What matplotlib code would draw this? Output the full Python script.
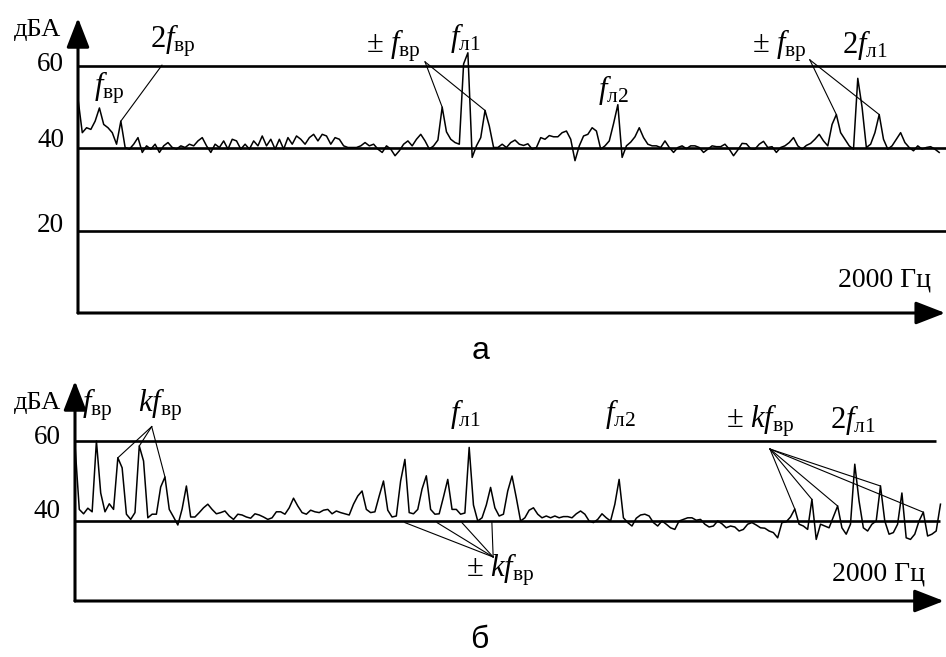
import matplotlib
matplotlib.use('Agg')
import matplotlib.pyplot as plt
import numpy as np
from matplotlib.transforms import ScaledTranslation, blended_transform_factory

plt.rcParams['font.family'] = ['Liberation Serif', 'DejaVu Serif']
plt.rcParams['mathtext.fontset'] = 'custom'
plt.rcParams['mathtext.rm'] = 'Liberation Serif'
plt.rcParams['mathtext.it'] = 'Liberation Serif:italic'
plt.rcParams['mathtext.bf'] = 'Liberation Serif:bold'

# ---------------- data ----------------
freq_a = np.arange(0, 2020, 10)          # Hz, panel "а"
level_a = [
    52, 43.8, 45, 44.6, 46.6, 49.8, 45.8, 45, 43.8, 41,
    46.6, 40.2, 39.8, 41, 42.6, 39, 40.6, 39.8, 41, 39,
    40.6, 41.4, 40.2, 39.8, 40.6, 40.2, 41, 40.6, 41.8, 42.6,
    40.6, 39, 41, 40.2, 41.8, 39.8, 42.2, 41.8, 39.8, 41,
    39.8, 41.8, 40.6, 43, 40.6, 42.2, 39.8, 42.2, 39.8, 42.6,
    41, 43, 42.2, 41, 42.6, 43.4, 41.8, 43.4, 43, 41,
    42.6, 42.2, 40.6, 40.2, 40.2, 40.2, 40.6, 41.4, 40.6, 41,
    39.8, 39, 40.6, 39.8, 38.2, 39.4, 41, 41.8, 40.6, 42.2,
    43.4, 41.8, 39.8, 40.6, 42, 50, 44, 42.2, 41.4, 41,
    60.5, 63.2, 37.8, 40.6, 42.6, 49.2, 45.4, 40.2, 40.2, 41,
    40.2, 41.4, 42, 41, 40.7, 41.1, 39.8, 40.2, 42.6, 42.2,
    43.1, 42.8, 42.8, 43.8, 44.2, 42.2, 37, 40.6, 43, 43.4,
    45, 44.2, 39.8, 40.6, 41.8, 46, 50.6, 37.8, 40.6, 41.5,
    42.8, 45, 42.6, 41, 40.6, 40.6, 40.2, 41.8, 40.2, 39,
    40.2, 40.6, 39.9, 40.6, 40.6, 40.2, 39, 39.8, 40.6, 40.4,
    40.4, 41, 39.8, 38.2, 39.6, 41.2, 41.1, 39.9, 39.8, 41,
    41.7, 40.2, 40.4, 39, 40.2, 40.6, 41.4, 42.6, 40.6, 39.8,
    40.7, 41.2, 42.2, 43.4, 41.8, 40.6, 45.8, 48.2, 43.8, 42.2,
    40.6, 39.8, 57, 50, 40.2, 41, 43.8, 48.2, 42.2, 39.8,
    40.6, 42.2, 43.8, 41.4, 40.2, 39.4, 40.6, 39.8, 40.2, 40.4,
    39.8, 39,
]

freq_b = np.arange(0, 2030, 10)          # Hz, panel "б"
level_b = [
    59, 42.9, 41.8, 43.2, 42.3, 60, 47, 42.3, 44.3, 42.9,
    55.8, 53.3, 41.7, 40.4, 42.1, 58.75, 55, 40.8, 41.7, 41.7,
    48.5, 51, 42.9, 41, 39, 43, 48.75, 41, 41, 42.1,
    43.3, 44.2, 42.9, 41.8, 42.1, 42.5, 41.25, 40.4, 41.7, 41.5,
    41, 40.7, 41.8, 41.5, 41, 40.4, 40.8, 42.3, 42.3, 41.7,
    43.3, 45.7, 43.75, 42.1, 41.7, 42.7, 42.3, 42.1, 42.7, 42.9,
    41.8, 42.5, 42.1, 41.8, 41.5, 44.2, 46.25, 47.5, 42.9, 42.1,
    42.3, 46.25, 50, 42.7, 41, 41.25, 50, 55.4, 42.1, 41.8,
    42.9, 48, 51.3, 42.9, 41.7, 41.8, 46, 50.4, 42.9, 42.9,
    41.7, 42, 58.4, 44, 40, 40.8, 44, 48.4, 43.3, 41.25,
    41.7, 47.5, 51.25, 45.8, 40, 40.8, 42.7, 43.3, 41.7, 40.8,
    41.25, 40.8, 41.25, 40.8, 41.1, 41.1, 40.8, 41.8, 42.5, 41.7,
    40, 39.6, 40.4, 41.8, 40.8, 40, 44.2, 50.4, 40.8, 39.6,
    38.75, 40.7, 41.5, 41.7, 41.25, 39.6, 38.75, 40, 39.2, 38.3,
    37.9, 40, 40.4, 40.8, 40.8, 40.2, 40.4, 39.2, 38.5, 38.75,
    40, 39.3, 38.3, 38.75, 38.5, 37.5, 37.9, 39.2, 39.6, 39,
    38.3, 38.2, 37.5, 37.1, 35.8, 39.6, 39.8, 41, 43, 39.2,
    38.75, 37.9, 45.4, 35.4, 39.2, 38.75, 38.3, 41, 43.75, 38.3,
    36.7, 39.2, 54.2, 45, 38.3, 37.5, 39.2, 40, 48.75, 40,
    36.7, 37.1, 39.2, 47, 35.8, 35.4, 36.7, 40, 42.2, 36.25,
    36.7, 37.5, 44.2,
]

ticks_a = [60, 40, 20]
ticks_b = [60, 40]

# leader lines: apex (Hz, dB) -> indices of marked peaks
lead_a = [((196, 60.2), [10]), ((810, 61.0), [85, 95]), ((1708, 61.5), [177, 187])]
lead_b = [((179, 63.6), [10, 15, 21]), ((1622, 58.0), [168, 172, 178, 188, 198])]
lead_b_low_apex = (976, 31.0)
lead_b_low_ends = [770, 845, 903, 973]
lead_b_low_level = 39.6

# ---------------- figure ----------------
W, H = 946, 657
fig = plt.figure(figsize=(W / 100, H / 100), dpi=100)

HZPX = 2.334
ax1 = fig.add_axes([78 / W, (H - 313) / H, 868 / W, 295 / H])
ax1.set_xlim(0, 868 * HZPX)
ax1.set_ylim(0, 295 / 4.117)
ax2 = fig.add_axes([75 / W, (H - 601) / H, 871 / W, 220 / H])
ax2.set_xlim(0, 871 * HZPX)
ax2.set_ylim(20, 20 + 220 / 4.0)

for ax in (ax1, ax2):
    ax.axis('off')

arrow_kw = dict(arrowstyle='-|>,head_length=0.9,head_width=0.35', lw=2.2,
                color='black', shrinkA=0, shrinkB=0, mutation_scale=20)


def draw_panel(ax, freq, level, ticks, tick_dy, ybase, xtip, grid_xmax):
    y0, y1 = ax.get_ylim()
    for t, gx in zip(ticks, grid_xmax):
        ax.plot([0, gx], [t, t], color='black', lw=1.9, solid_capstyle='butt', clip_on=False)
    ax.plot(freq, level, color='black', lw=1.1, clip_on=False)
    ax.annotate('', xy=(0, y1), xytext=(0, ybase), xycoords='data',
                arrowprops=arrow_kw, annotation_clip=False)
    ax.annotate('', xy=(xtip, ybase), xytext=(0, ybase), xycoords='data',
                arrowprops=arrow_kw, annotation_clip=False)
    tr = blended_transform_factory(ax.transAxes, ax.transData)
    for t, dy in zip(ticks, tick_dy):
        ax.text(0, t, str(t), transform=tr + ScaledTranslation(-0.14, dy / 100, fig.dpi_scale_trans),
                ha='right', va='center', fontsize=19.5)


draw_panel(ax1, freq_a, level_a, ticks_a, [1, 8, 5], 0, 2024, [2026, 2026, 2026])
draw_panel(ax2, freq_b, level_b, ticks_b, [3, 10], 20, 2028, [2010, 2020])

for ax, freq, level, leads in ((ax1, freq_a, level_a, lead_a), (ax2, freq_b, level_b, lead_b)):
    for (af, adb), idxs in leads:
        for i in idxs:
            ax.plot([af, freq[i]], [adb, level[i]], color='black', lw=0.8, clip_on=False)
for e in lead_b_low_ends:
    ax2.plot([lead_b_low_apex[0], e], [lead_b_low_apex[1], lead_b_low_level],
             color='black', lw=0.8, clip_on=False)


def ftxt(x, y, s, size=22, **kw):
    fig.text(x / W, 1 - y / H, s, ha='center', va='center', fontsize=size, **kw)


# panel а labels
ftxt(37, 30, 'дБА', 19)
ftxt(109, 88, r'$f_{\mathrm{вр}}$')
ftxt(173, 41, r'$2f_{\mathrm{вр}}$')
ftxt(393, 46, r'±$\ f_{\mathrm{вр}}$')
ftxt(465, 38, r'$f_{\mathrm{л1}}$')
ftxt(613, 90, r'$f_{\mathrm{л2}}$')
ftxt(779, 46, r'±$\ f_{\mathrm{вр}}$')
ftxt(865, 45, r'$2f_{\mathrm{л1}}$')
ftxt(884, 280, '2000 Гц', 20)
ftxt(481, 351, 'а', 23, family='Liberation Sans')

# panel б labels
ftxt(38, 403, 'дБА', 19)
ftxt(97, 405, r'$f_{\mathrm{вр}}$')
ftxt(160, 405, r'$kf_{\mathrm{вр}}$')
ftxt(465, 414, r'$f_{\mathrm{л1}}$')
ftxt(620, 414, r'$f_{\mathrm{л2}}$')
ftxt(760, 421, r'±$\ kf_{\mathrm{вр}}$')
ftxt(853, 420, r'$2f_{\mathrm{л1}}$')
ftxt(500, 570, r'±$\ kf_{\mathrm{вр}}$')
ftxt(878, 574, '2000 Гц', 20)
ftxt(479, 640, 'б', 23, family='Liberation Sans')

fig.savefig('out.png', dpi=100, facecolor='white')
